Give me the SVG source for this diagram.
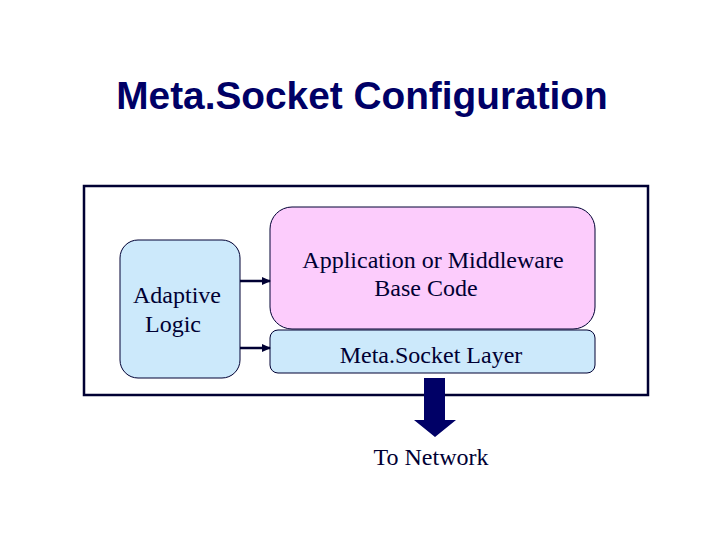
<svg xmlns="http://www.w3.org/2000/svg" width="720" height="540" viewBox="0 0 720 540">
<style>
.t{font-family:"Liberation Serif",serif;font-size:24px;fill:#000033}
.n{stroke:#000033;stroke-width:1}
</style>
<defs><marker id="a" markerWidth="9" markerHeight="8" refX="8" refY="4" orient="auto" markerUnits="userSpaceOnUse"><path d="M0,0L9,4L0,8z" fill="#000033"/></marker></defs>
<rect width="720" height="540" fill="#fff"/>
<text x="362" y="109" text-anchor="middle" font-family="Liberation Sans,sans-serif" font-weight="bold" font-size="38.8" fill="#000066">Meta.Socket Configuration</text>
<rect x="84" y="186" width="564" height="209" fill="#fff" stroke="#000033" stroke-width="2.5"/>
<g id="adaptive"><rect class="n" x="120" y="240" width="120" height="138" rx="18" fill="#cce9fb"/>
<text class="t" x="133" y="303">Adaptive</text><text class="t" x="145" y="332">Logic</text></g>
<g id="app"><rect class="n" x="270" y="207" width="325" height="122" rx="22" fill="#fcccfc"/>
<text class="t" x="433" y="268" text-anchor="middle">Application or Middleware</text><text class="t" x="426" y="296" text-anchor="middle">Base Code</text></g>
<g id="layer"><rect class="n" x="270" y="330" width="325" height="43" rx="8" fill="#cce9fb"/>
<text class="t" x="431" y="363" text-anchor="middle">Meta.Socket Layer</text></g>
<g id="connectors" stroke="#000033" stroke-width="2.5">
<line x1="240" y1="281" x2="270" y2="281" marker-end="url(#a)"/>
<line x1="240" y1="348" x2="270" y2="348" marker-end="url(#a)"/>
<path d="M424,378H445V420H456L435,437L414,420H424Z" fill="#000066" stroke="none"/>
</g>
<text class="t" x="431" y="465" text-anchor="middle">To Network</text>
</svg>
